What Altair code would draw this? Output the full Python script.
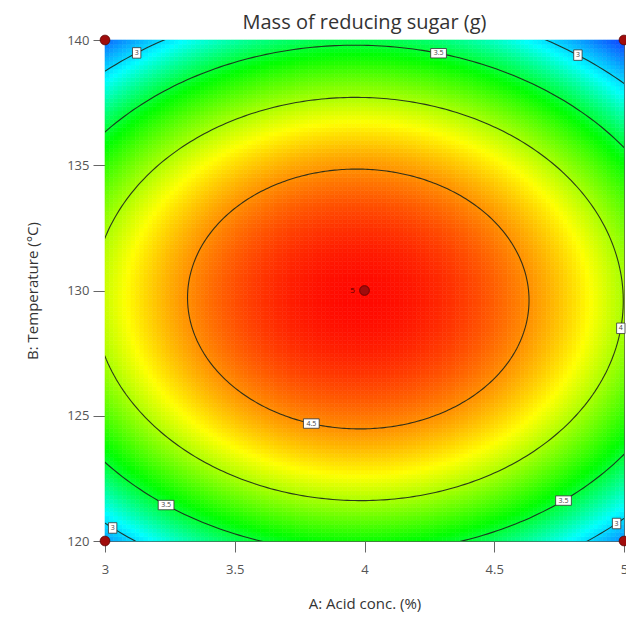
import numpy as np
import pandas as pd
import altair as alt

# ---- data ----
# Fitted quadratic response-surface model in coded units (A: acid conc, B: temperature)
coef_names = ["Intercept", "A", "B", "AB", "A2", "B2"]
coef_values = [4.853, -0.04, -0.09, -0.02, -0.82, -1.32]

acid_range = [3, 5]          # A: Acid conc. (%)
temp_range = [120, 140]      # B: Temperature (°C)
x_ticks = [3, 3.5, 4, 4.5, 5]
y_ticks = [120, 125, 130, 135, 140]

contour_levels = [3, 3.5, 4, 4.5]
label_texts = ["3", "3", "3", "3", "3.5", "3.5", "3.5", "4", "4.5"]
label_angles = [131, 49, 224, 318, 72.5, 228, 314.5, 353.4, 250]

design_acid = [3, 3, 5, 5, 4]
design_temp = [120, 140, 120, 140, 130]
center_reps = ["5"]

color_stops = [2.55, 3.1, 3.6, 4.2, 4.88]
color_range = ["#1038ff", "#00ffff", "#00ff00", "#ffff00", "#ff0000"]

# ---- model evaluation ----
c = dict(zip(coef_names, coef_values))


def model(a, b):
    return (c["Intercept"] + c["A"] * a + c["B"] * b + c["AB"] * a * b
            + c["A2"] * a * a + c["B2"] * b * b)


def to_acid(a):
    return (acid_range[0] + acid_range[1]) / 2 + a * (acid_range[1] - acid_range[0]) / 2


def to_temp(b):
    return (temp_range[0] + temp_range[1]) / 2 + b * (temp_range[1] - temp_range[0]) / 2


# heat map grid
n = 120
edges = np.linspace(-1, 1, n + 1)
mids = (edges[:-1] + edges[1:]) / 2
rows = []
for i in range(n):
    for j in range(n):
        rows.append({
            "x": to_acid(edges[i]), "x2": to_acid(edges[i + 1]),
            "y": to_temp(edges[j]), "y2": to_temp(edges[j + 1]),
            "v": model(mids[i], mids[j]),
        })
heat_df = pd.DataFrame(rows)

# stationary point
M = np.array([[2 * c["A2"], c["AB"]], [c["AB"], 2 * c["B2"]]])
a0, b0 = np.linalg.solve(M, [-c["A"], -c["B"]])
fmax = model(a0, b0)


def ray_point(level, deg):
    t = np.deg2rad(deg)
    ca, sb = np.cos(t), np.sin(t)
    quad = c["A2"] * ca * ca + c["AB"] * ca * sb + c["B2"] * sb * sb
    r = np.sqrt((level - fmax) / quad)
    return to_acid(a0 + r * ca), to_temp(b0 + r * sb)


line_rows = []
for lv in contour_levels:
    for k, deg in enumerate(np.arange(0, 361, 1.0)):
        A, B = ray_point(lv, deg)
        line_rows.append({"level": str(lv), "k": k, "A": A, "B": B})
line_df = pd.DataFrame(line_rows)

lab_rows = []
for txt, ang in zip(label_texts, label_angles):
    A, B = ray_point(float(txt), ang)
    lab_rows.append({"txt": txt, "A": A, "B": B, "w": "wide" if len(txt) > 1 else "narrow"})
lab_df = pd.DataFrame(lab_rows)

pts_df = pd.DataFrame({"A": design_acid, "B": design_temp})
ctr_df = pd.DataFrame({"A": [to_acid(0)], "B": [to_temp(0)], "t": center_reps})

FONT = "Open Sans"
xs = alt.Scale(domain=acid_range, nice=False, zero=False)
ys = alt.Scale(domain=temp_range, nice=False, zero=False)
cscale = alt.Scale(domain=color_stops, range=color_range, interpolate="rgb")

xaxis = alt.Axis(values=x_ticks, format="~g", title="A: Acid conc. (%)", tickSize=11,
                 labelPadding=11, labelFontSize=13, labelColor="#555", labelFont=FONT,
                 tickColor="#666", domain=False, grid=False, titleFont=FONT, titleFontSize=15,
                 titleFontWeight="normal", titleColor="#333", titlePadding=20,
                 labelFlush=False)
yaxis = alt.Axis(values=y_ticks, title="B: Temperature (°C)", tickSize=12, labelPadding=4,
                 labelFontSize=13, labelColor="#555", labelFont=FONT, tickColor="#666",
                 domain=False, grid=False, titleFont=FONT, titleFontSize=15,
                 titleFontWeight="normal", titleColor="#333", titlePadding=26,
                 labelFlush=False)

heat = alt.Chart(heat_df).mark_rect(strokeWidth=0.6).encode(
    x=alt.X("x:Q", scale=xs, axis=xaxis),
    x2="x2:Q",
    y=alt.Y("y:Q", scale=ys, axis=yaxis),
    y2="y2:Q",
    color=alt.Color("v:Q", scale=cscale, legend=None),
    stroke=alt.Stroke("v:Q", scale=cscale, legend=None),
)

lines = alt.Chart(line_df).mark_line(clip=True, color="#1c261c", strokeWidth=1.1, opacity=0.9).encode(
    x=alt.X("A:Q", scale=xs),
    y=alt.Y("B:Q", scale=ys),
    detail="level:N",
    order="k:Q",
)

boxes = alt.Chart(lab_df).mark_point(fill="white", stroke="#333", strokeWidth=0.8,
                                      size=110, opacity=1, fillOpacity=1).encode(
    x=alt.X("A:Q", scale=xs),
    y=alt.Y("B:Q", scale=ys),
    shape=alt.Shape("w:N", legend=None, scale=alt.Scale(
        domain=["narrow", "wide"],
        range=["M-0.8,-1L0.8,-1L0.8,1L-0.8,1Z", "M-1.5,-0.9L1.5,-0.9L1.5,0.9L-1.5,0.9Z"])),
)

texts = alt.Chart(lab_df).mark_text(fontSize=7, color="#444", font=FONT, baseline="middle").encode(
    x=alt.X("A:Q", scale=xs),
    y=alt.Y("B:Q", scale=ys),
    text="txt:N",
)

pts = alt.Chart(pts_df).mark_point(filled=True, size=95, color="#a00c0c", stroke="#5a0000",
                                   strokeWidth=0.8, opacity=1).encode(
    x=alt.X("A:Q", scale=xs),
    y=alt.Y("B:Q", scale=ys),
)

ctr = alt.Chart(ctr_df).mark_text(fontSize=8, color="#500000", font=FONT, dx=-12, baseline="middle").encode(
    x=alt.X("A:Q", scale=xs),
    y=alt.Y("B:Q", scale=ys),
    text="t:N",
)

chart = alt.layer(heat, lines, boxes, texts, pts, ctr).properties(
    width=519,
    height=501,
    title=alt.Title("Mass of reducing sugar (g)", font=FONT, fontSize=20, fontWeight="normal",
                    color="#333", offset=1),
    padding={"left": 105, "top": 40, "right": 2, "bottom": 76},
    autosize=alt.AutoSizeParams(type="none"),
).configure_view(stroke="#555", strokeWidth=1)

chart.save("out.html", embed_options={"renderer": "svg", "actions": False})
